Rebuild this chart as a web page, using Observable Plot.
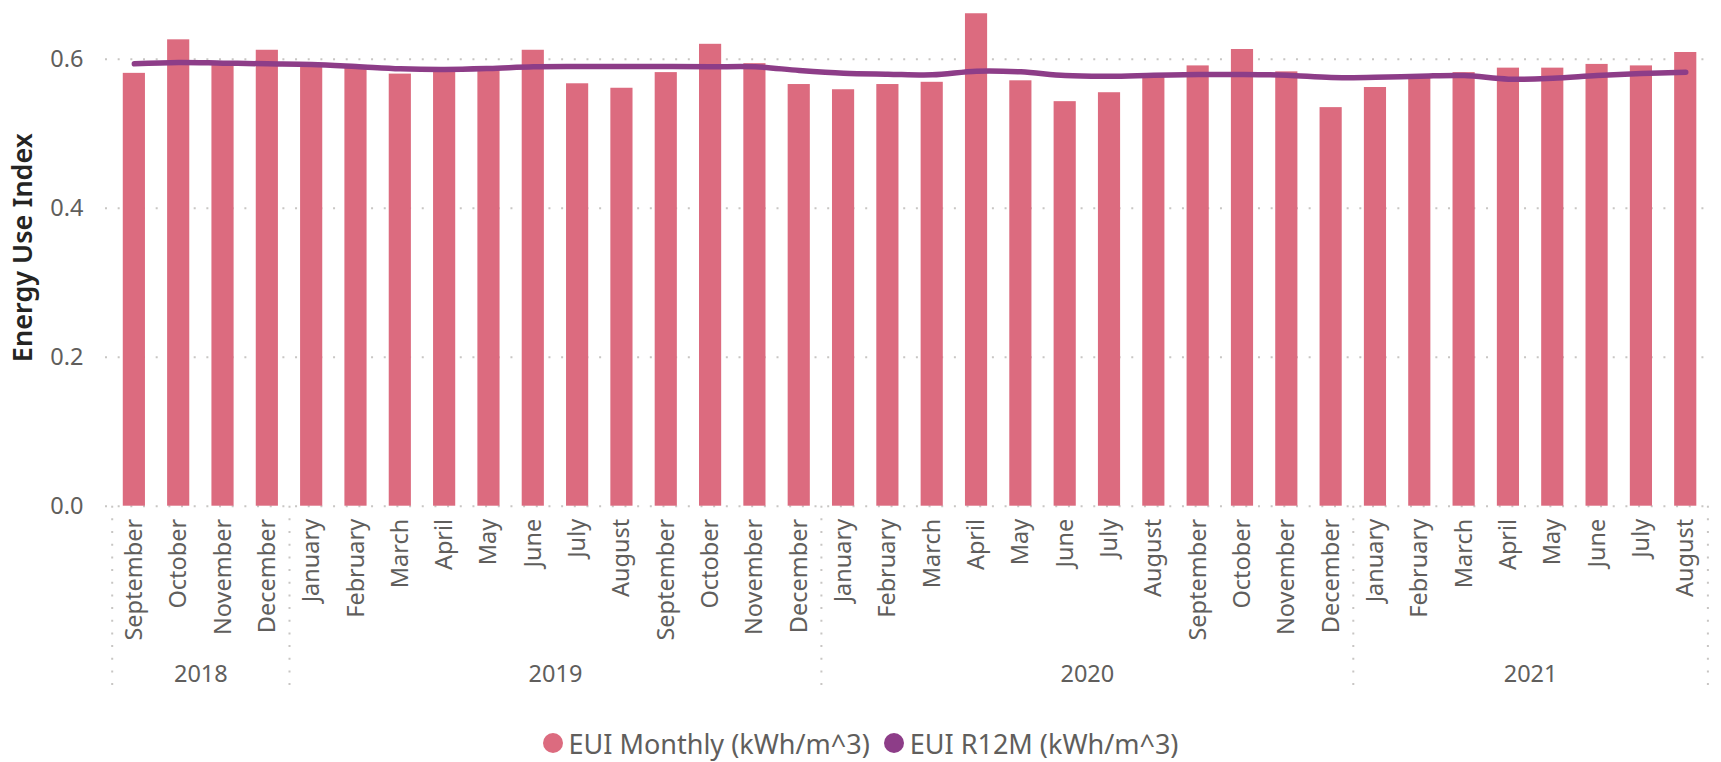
<!DOCTYPE html>
<html><head><meta charset="utf-8">
<script src="https://cdn.jsdelivr.net/npm/d3@7"></script>
<script src="https://cdn.jsdelivr.net/npm/@observablehq/plot@0.6"></script>
<style>
body{margin:0;background:#fff;font-family:"Noto Sans",sans-serif;}
svg{display:block;}
#legend{display:flex;justify-content:center;align-items:center;height:62px;color:#605E5C;font-size:27px;white-space:nowrap;}
.item{display:flex;align-items:center;margin:0 7px;}
.dot{width:20px;height:20px;border-radius:50%;margin-right:6px;}
</style></head><body><div id="chart"></div><div id="legend"></div>
<script>
const monthNames = ["September","October","November","December",
  "January","February","March","April","May","June","July","August","September","October","November","December",
  "January","February","March","April","May","June","July","August","September","October","November","December",
  "January","February","March","April","May","June","July","August"];
const years = [2018,2018,2018,2018,
  2019,2019,2019,2019,2019,2019,2019,2019,2019,2019,2019,2019,
  2020,2020,2020,2020,2020,2020,2020,2020,2020,2020,2020,2020,
  2021,2021,2021,2021,2021,2021,2021,2021];
const euiMonthly = [0.581,0.626,0.594,0.612,
  0.590,0.588,0.580,0.583,0.587,0.612,0.567,0.561,0.582,0.620,0.594,0.566,
  0.559,0.566,0.569,0.661,0.571,0.543,0.555,0.577,0.591,0.613,0.583,0.535,
  0.562,0.576,0.582,0.588,0.588,0.593,0.591,0.609];
const euiR12M = [0.5938,0.5956,0.5947,0.5938,
  0.5929,0.5902,0.5871,0.5862,0.5875,0.5898,0.5902,0.5902,0.5902,0.5898,0.5898,0.5849,
  0.5812,0.5799,0.5790,0.5839,0.5830,0.5781,0.5772,0.5785,0.5795,0.5795,0.5785,0.5754,
  0.5758,0.5772,0.5781,0.5732,0.5745,0.5781,0.5808,0.5825];
const yTicks = [0, 0.2, 0.4, 0.6];
const seriesNames = ["EUI Monthly (kWh/m^3)", "EUI R12M (kWh/m^3)"];
const seriesColors = ["#DC6B7F", "#8D3D88"];
const yTitle = "Energy Use Index";

const data = monthNames.map((m, i) => ({i, month: m, year: years[i], eui: euiMonthly[i], r12: euiR12M[i]}));
const yearGroups = d3.groups(data, d => d.year).map(([year, rows]) => ({year, first: rows[0].i, last: rows[rows.length - 1].i}));
const bounds = [yearGroups[0].first - 0.5, ...yearGroups.map(g => g.last + 0.5)];

const W = 1721, H = 712, mt = 6.55, mb = 206.3, ml = 105, mr = 11;
const plotH = H - mt - mb;
const grid = {stroke: "#C8C6C4", strokeWidth: 2, strokeDasharray: "2,10.67"};
const textColor = "#605E5C";

const chart = Plot.plot({
  width: W, height: H, marginTop: mt, marginBottom: mb, marginLeft: ml, marginRight: mr,
  style: {fontFamily: '"Noto Sans", sans-serif', fontSize: "23.5px", color: textColor, background: "#fff"},
  x: {type: "linear", domain: [-0.5, data.length - 0.5], insetLeft: 6.7, insetRight: 2.6, axis: null},
  y: {domain: [0, 0.67], axis: null},
  marks: [
    Plot.ruleY(yTicks, {y: d => d, ...grid}),
    Plot.ruleX(bounds, {x: d => d, ...grid, insetTop: plotH, insetBottom: -189.3}),
    Plot.rectY(data, {x1: d => d.i - 0.25, x2: d => d.i + 0.25, y: "eui", fill: seriesColors[0]}),
    Plot.line(data, {x: "i", y: "r12", stroke: seriesColors[1], strokeWidth: 5.5, curve: "catmull-rom", strokeLinecap: "round", strokeLinejoin: "round"}),
    Plot.axisY({ticks: yTicks, tickSize: 0, tickPadding: 22, tickFormat: d3.format(".1f"), label: null, fontSize: 23.5}),
    Plot.text(data, {x: "i", text: "month", frameAnchor: "bottom", rotate: -90, textAnchor: "end", lineAnchor: "middle", dy: 12.6, fill: textColor, fontSize: 23.5}),
    Plot.text(yearGroups, {x: d => (d.first + d.last) / 2, text: d => String(d.year), frameAnchor: "bottom", dy: 168.3, lineAnchor: "middle", fill: textColor, fontSize: 23.5}),
    Plot.text([yTitle], {text: d => d, frameAnchor: "left", rotate: -90, dx: -82.5, dy: -9, textAnchor: "middle", lineAnchor: "middle", fill: "#252423", fontSize: 27, fontWeight: 600})
  ]
});
document.getElementById("chart").append(chart);

const legend = document.getElementById("legend");
seriesNames.forEach((name, k) => {
  const item = document.createElement("div");
  item.className = "item";
  const dot = document.createElement("span");
  dot.className = "dot";
  dot.style.background = seriesColors[k];
  const label = document.createElement("span");
  label.textContent = name;
  item.append(dot, label);
  legend.append(item);
});
</script>
</body></html>
